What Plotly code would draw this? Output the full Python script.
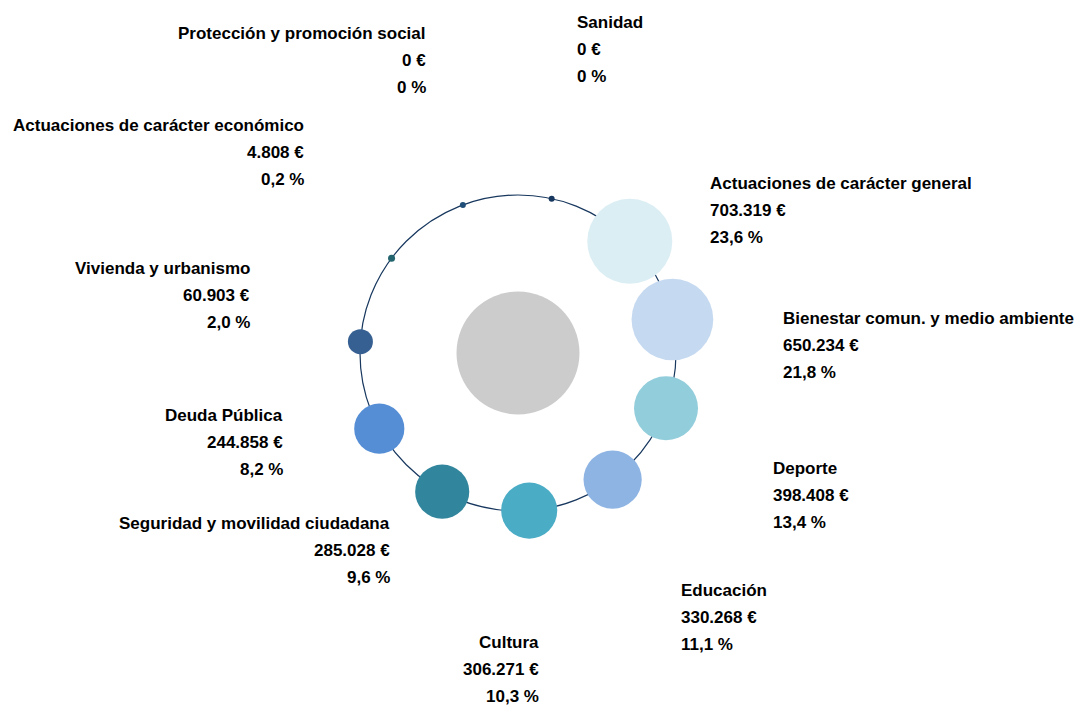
import math
import plotly.graph_objects as go

# Budget by policy area (euros and share of total)
categories = [
    "Sanidad",
    "Actuaciones de carácter general",
    "Bienestar comun. y medio ambiente",
    "Deporte",
    "Educación",
    "Cultura",
    "Seguridad y movilidad ciudadana",
    "Deuda Pública",
    "Vivienda y urbanismo",
    "Actuaciones de carácter económico",
    "Protección y promoción social",
]
amounts = [0, 703319, 650234, 398408, 330268, 306271, 285028, 244858, 60903, 4808, 0]
shares = ["0", "23,6", "21,8", "13,4", "11,1", "10,3", "9,6", "8,2", "2,0", "0,2", "0"]

colors = [
    "#17375e", "#dbeef4", "#c5d9f0", "#92cddb", "#8eb4e3", "#4bacc6",
    "#31859c", "#558ed5", "#376092", "#24646f", "#1f4e79",
]

# Geometry (pixel units; axes map 1:1 to the page)
W, H = 1079, 705
CX, CY = 518, 353
RING_R = 158
START_DEG = 12.3
MAX_DIAM = 85
MIN_DIAM = 6
CENTER_R = 61.5
LINE_GAP = 27
FONT = dict(family="Liberation Sans, Arial, sans-serif", size=17, color="#000000")

# Label anchors: (x of aligned edge, y of first line, side)
label_layout = [
    (577, 22, "left"),
    (710, 183, "left"),
    (783, 318, "left"),
    (773, 468, "left"),
    (681, 590, "left"),
    (539, 642, "right"),
    (390, 523, "right"),
    (283, 415, "right"),
    (250, 268, "right"),
    (304, 125, "right"),
    (426, 33, "right"),
]


def fmt_eur(v):
    return f"{v:,}".replace(",", ".") + " €"


n = len(categories)
step = 360.0 / n
vmax = max(amounts)
xs, ys, sizes = [], [], []
for i, v in enumerate(amounts):
    a = math.radians(START_DEG + i * step)
    xs.append(CX + RING_R * math.sin(a))
    ys.append(CY - RING_R * math.cos(a))
    sizes.append(max(MAX_DIAM * math.sqrt(v / vmax), MIN_DIAM))

fig = go.Figure()

fig.add_trace(go.Scatter(
    x=xs, y=ys, mode="markers",
    marker=dict(size=sizes, sizemode="diameter", color=colors, line=dict(width=0), opacity=1),
    text=categories, hoverinfo="text", showlegend=False,
))

shapes = [
    dict(type="circle", xref="x", yref="y", x0=CX - RING_R, x1=CX + RING_R,
         y0=CY - RING_R, y1=CY + RING_R, line=dict(color="#17375e", width=1.2),
         layer="below"),
    dict(type="circle", xref="x", yref="y", x0=CX - CENTER_R, x1=CX + CENTER_R,
         y0=CY - CENTER_R, y1=CY + CENTER_R, line=dict(width=0),
         fillcolor="#cccccc", layer="below"),
]

annotations = []
for cat, v, s, (lx, ly, side) in zip(categories, amounts, shares, label_layout):
    for k, line in enumerate([cat, fmt_eur(v), f"{s} %"]):
        annotations.append(dict(
            x=lx, y=ly + k * LINE_GAP, xref="x", yref="y", text=f"<b>{line}</b>",
            showarrow=False, xanchor=side, yanchor="middle", align=side, font=FONT,
            borderpad=0, borderwidth=0,
        ))

fig.update_layout(
    width=W, height=H, margin=dict(l=0, r=0, t=0, b=0),
    paper_bgcolor="white", plot_bgcolor="white",
    xaxis=dict(range=[0, W], visible=False, fixedrange=True),
    yaxis=dict(range=[H, 0], visible=False, fixedrange=True),
    shapes=shapes, annotations=annotations,
)

fig.write_html("out.html")
